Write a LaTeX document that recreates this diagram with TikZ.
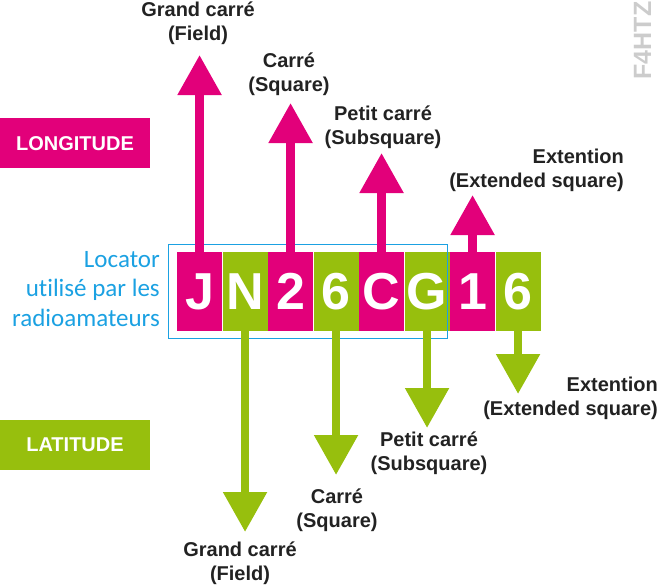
\documentclass[tikz,border=0pt]{standalone}
\usepackage{fontspec}
\setmainfont{Liberation Sans}
\newfontfamily\locfont[Ligatures=NoCommon]{Carlito}
\usetikzlibrary{arrows.meta,positioning}

\definecolor{mag}{HTML}{E2007A}
\definecolor{lime}{HTML}{97BF0D}
\definecolor{sky}{HTML}{1BA1E2}
\definecolor{ink}{HTML}{222222}

\tikzset{
  cell/.style={minimum width=45.1pt, minimum height=79pt, inner sep=0pt, text=white,
    font=\fontsize{52}{52}\selectfont\bfseries},
  lon/.style={cell, fill=mag},
  lat/.style={cell, fill=lime},
  uparrow/.style={draw=mag, line width=8.5pt, -{Triangle[width=42pt,length=40pt]}},
  downarrow/.style={draw=lime, line width=8.5pt, -{Triangle[width=42pt,length=40pt]}},
  lbl/.style={align=center, text=ink, inner sep=0pt, font=\fontsize{20}{24}\selectfont\bfseries},
  tag/.style={minimum width=150pt, minimum height=50pt, inner sep=0pt, text=white,
    font=\fontsize{20}{24}\selectfont\bfseries},
}

\begin{document}
\begin{tikzpicture}[x=1pt,y=-1pt]
\useasboundingbox (0,0) rectangle (661,587);

% longitude / latitude
\node[tag, fill=mag] (longitude) at (75,143.3) {LONGITUDE};
\node[tag, fill=lime] (latitude) at (75,445) {LATITUDE};

% the locator JN26CG16
\node[lon] (J) at (199.55,291.5) {J};
\node[lat, right=0pt of J] (N) {N};
\node[lon, right=0pt of N] (c2) {2};
\node[lat, right=0pt of c2] (c6) {6};
\node[lon, right=0pt of c6] (C) {C};
\node[lat, right=0pt of C] (G) {G};
\node[lon, right=0pt of G] (c1) {1};
\node[lat, right=0pt of c1] (d6) {6};

\node[draw=sky, line width=1.5pt, minimum width=279pt, minimum height=93.6pt, inner sep=0pt]
  (frame) at (307.8,291.5) {};
\node[anchor=east, align=right, text=sky, inner sep=0pt,
  font=\locfont\fontsize{25}{29.5}\selectfont] (loc) at (160,289)
  {Locator\\utilisé par les\\radioamateurs};

% arrow tips
\coordinate (tJ) at (J |- 0,55);
\coordinate (tc2) at (c2 |- 0,103);
\coordinate (tC) at (C |- 0,153);
\coordinate (tc1) at (c1 |- 0,195);
\coordinate (tN) at (N |- 0,532);
\coordinate (tc6) at (c6 |- 0,475);
\coordinate (tG) at (G |- 0,428);
\coordinate (td6) at (d6 |- 0,394);

\draw[uparrow] (J.north) -- (tJ);
\draw[uparrow] (c2.north) -- (tc2);
\draw[uparrow] (C.north) -- (tC);
\draw[uparrow] (c1.north) -- (tc1);
\draw[downarrow] (N.south) -- (tN);
\draw[downarrow] (c6.south) -- (tc6);
\draw[downarrow] (G.south) -- (tG);
\draw[downarrow] (d6.south) -- (td6);

% labels
\node[lbl] (fieldU) at (198,23) {Grand carré\\(Field)};
\node[lbl] (squareU) at (289,74.5) {Carré\\(Square)};
\node[lbl] (subU) at (383,127) {Petit carré\\(Subsquare)};
\node[lbl, anchor=east, align=right] (extU) at (624,170.5) {Extention\\(Extended square)};
\node[lbl] (fieldD) at (240,563.5) {Grand carré\\(Field)};
\node[lbl] (squareD) at (337,510) {Carré\\(Square)};
\node[lbl] (subD) at (429,453) {Petit carré\\(Subsquare)};
\node[lbl, anchor=east, align=right] (extD) at (658,398.5) {Extention\\(Extended square)};

\node[rotate=90, text=black!20, inner sep=0pt, font=\fontsize{25}{25}\selectfont\bfseries]
  (sign) at (642.5,40.5) {F4HTZ};
\end{tikzpicture}
\end{document}
